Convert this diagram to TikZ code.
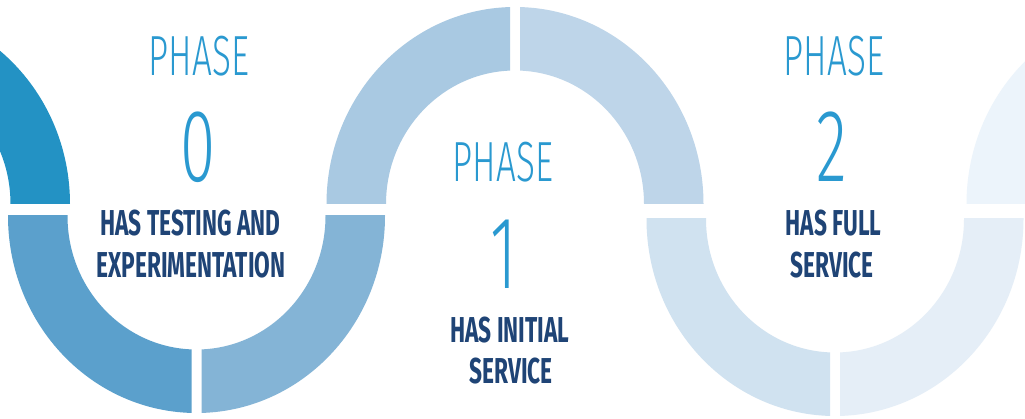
\documentclass[tikz,border=0pt]{standalone}
\usepackage{fontspec}
\newfontfamily\thinfont{Fira Sans Light}[FakeStretch=0.62]
\newfontfamily\descfont{Fira Sans}[FakeStretch=0.63]
\definecolor{cA}{HTML}{2392C4}
\definecolor{cB}{HTML}{5BA0CC}
\definecolor{cC}{HTML}{84B4D6}
\definecolor{cD}{HTML}{A9C9E2}
\definecolor{cE}{HTML}{BED5E9}
\definecolor{cF}{HTML}{D0E2F0}
\definecolor{cG}{HTML}{E5EEF7}
\definecolor{cH}{HTML}{ECF4FB}
\definecolor{phaseblue}{HTML}{2A99D0}
\definecolor{navy}{HTML}{1F4476}
\newcommand\toppiece[4]{%
  \begin{scope}
    \clip (#2,214) rectangle (#3,430);
    \fill[#4,even odd rule] (#1,214) ellipse[x radius=188.5,y radius=197]
                            (#1,214) ellipse[x radius=129,y radius=133.5];
  \end{scope}}
\newcommand\botpiece[5]{%
  \begin{scope}
    \clip (#3,#2) rectangle (#4,-20);
    \fill[#5,even odd rule] (#1,#2) ellipse[x radius=188.5,y radius=197]
                            (#1,#2) ellipse[x radius=129,y radius=133.5];
  \end{scope}}
\begin{document}
\begin{tikzpicture}[x=1pt,y=1pt,
  phasetxt/.style={anchor=base,inner sep=0pt,text=phaseblue,font=\thinfont\fontsize{56.6}{60}\selectfont},
  digittxt/.style={anchor=base,inner sep=0pt,text=phaseblue,font=\thinfont\fontsize{103}{110}\selectfont},
  desctxt/.style={anchor=base,inner sep=0pt,text=navy,font=\descfont\bfseries\fontsize{36}{40}\selectfont}]
\useasboundingbox (0,0) rectangle (1025,418);
\fill[white] (0,0) rectangle (1025,418);
\begin{scope}
  \clip (0,0) rectangle (1025,418);
  % top arches
  \toppiece{-118.5}{-400}{100}{cA}
  \toppiece{515}{300}{510}{cD}
  \toppiece{515}{520}{720}{cE}
  \toppiece{1155}{940}{1400}{cH}
  % bottom arches
  \botpiece{196.5}{202}{-20}{191.5}{cB}
  \botpiece{196.5}{202}{201.5}{400}{cC}
  \botpiece{835}{199}{620}{830}{cF}
  \botpiece{835}{199}{840}{1040}{cG}
\end{scope}
% phase 0
\node[phasetxt] (p0) at (199,342) {PHASE};
\node[digittxt] (n0) at (198,236) {0};
\node[desctxt] (d0a) at (190.5,182) {HAS TESTING AND};
\node[desctxt] (d0b) at (191,141) {EXPERIMENTATION};
% phase 1
\node[phasetxt] (p1) at (503,236) {PHASE};
\node[digittxt] (n1) at (504,130) {1};
\node[desctxt] (d1a) at (510,76) {HAS INITIAL};
\node[desctxt] (d1b) at (511,35) {SERVICE};
% phase 2
\node[phasetxt] (p2) at (834,342) {PHASE};
\node[digittxt] (n2) at (832,236) {2};
\node[desctxt] (d2a) at (833.5,182) {HAS FULL};
\node[desctxt] (d2b) at (832,141) {SERVICE};
\end{tikzpicture}
\end{document}
